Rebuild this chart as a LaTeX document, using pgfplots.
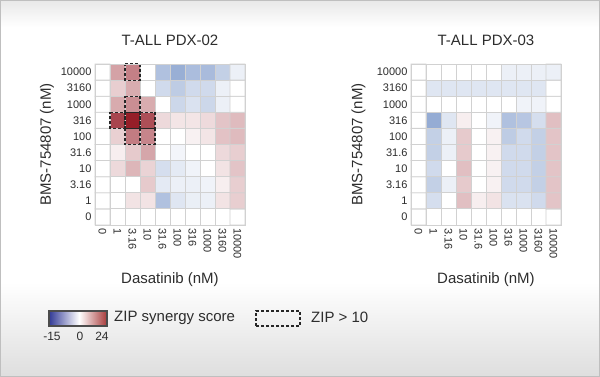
\documentclass[border=0pt]{standalone}
\usepackage{fontspec}
\setmainfont{Liberation Sans}
\usepackage{pgfplots}
\pgfplotsset{compat=1.18}
\definecolor{zl}{RGB}{50,58,150}
\definecolor{zr}{RGB}{168,58,58}
\definecolor{txt}{RGB}{45,45,45}
\pgfplotsset{colormap={zip}{rgb255(0cm)=(70,110,180) rgb255(15cm)=(255,255,255) rgb255(39cm)=(150,30,40)}}
\pgfdeclarehorizontalshading{zipbar}{100bp}{color(0bp)=(zl); color(25bp)=(zl); color(51bp)=(white); color(75bp)=(zr); color(100bp)=(zr)}
\pgfplotsset{hm/.style={
  scale only axis, width=150pt, height=161pt,
  xmin=-0.5, xmax=9.5, ymin=-0.5, ymax=9.5,
  xtick={0,...,9}, ytick={0,...,9},
  xticklabels={0,1,3.16,10,31.6,100,316,1000,3160,10000},
  yticklabels={10000,3160,1000,316,100,31.6,10,3.16,1,0},
  major tick length=0pt,
  axis line style={draw=black!18, line width=0.8pt},
  tick label style={font=\fontsize{11}{12}\selectfont, text=txt},
  xticklabel style={rotate=-90, anchor=west},
  colormap name=zip, point meta min=-15, point meta max=24,
  clip=false,
  label style={font=\fontsize{15}{18}\selectfont, text=txt},
  xlabel={Dasatinib (nM)}, ylabel={BMS-754807 (nM)},
  xlabel style={at={(axis description cs:0.5,-0.34)}, anchor=center},
  title style={at={(axis description cs:0.5,1.11)}, anchor=center, font=\fontsize{15}{18}\selectfont, text=txt},
  zipbox/.style={black!85, line width=1.1pt, dash pattern=on 3pt off 2pt},
}}
\begin{document}
\begin{tikzpicture}[x=1pt, y=1pt]
\useasboundingbox (0,0) rectangle (600,377);
\fill[white] (0,0) rectangle (600,377);
\shade[top color=black!9, bottom color=white] (0,350) rectangle (600,377);
\shade[top color=white, bottom color=black!13] (0,0) rectangle (600,95);
\draw[black!25, line width=1pt] (0.5,0.5) rectangle (599.5,376.5);

% y in the tables: 0 = BMS 0 nM ... 9 = BMS 10000 nM; plotted at 9-y (matrix plot reverses y)
\begin{axis}[hm, at={(95pt,152pt)}, anchor=south west, title={T-ALL PDX-02},
  ylabel style={at={(axis description cs:-0.32,0.5)}, anchor=center}]
\addplot[matrix plot, point meta=explicit, mesh/cols=10, faceted color=black!18, draw=black!18, line width=0.8pt]
table[row sep=\\, meta=z, y expr=9-\thisrow{y}]{
x y z\\
0 0 0\\ 1 0 0\\ 2 0 0\\ 3 0 0\\ 4 0 0\\ 5 0 0\\ 6 0 0\\ 7 0 0\\ 8 0 0\\ 9 0 0\\
0 1 0\\ 1 1 0\\ 2 1 3\\ 3 1 3\\ 4 1 -6.4\\ 5 1 -2.6\\ 6 1 -1.7\\ 7 1 -1.5\\ 8 1 3\\ 9 1 5.2\\
0 2 0\\ 1 2 0\\ 2 2 0\\ 3 2 5.7\\ 4 2 -2.2\\ 5 2 -1.5\\ 6 2 -1.5\\ 7 2 -1.2\\ 8 2 1.8\\ 9 2 5.2\\
0 3 0\\ 1 3 4\\ 2 3 7.8\\ 3 3 4.7\\ 4 3 -3.4\\ 5 3 -2.2\\ 6 3 -1.2\\ 7 3 0\\ 8 3 3\\ 9 3 6.3\\
0 4 0\\ 1 4 1.8\\ 2 4 5.7\\ 3 4 9.5\\ 4 4 0\\ 5 4 -1\\ 6 4 0\\ 7 4 0\\ 8 4 4\\ 9 4 5.2\\
0 5 0\\ 1 5 5\\ 2 5 14\\ 3 5 13\\ 4 5 0\\ 5 5 0\\ 6 5 1.5\\ 7 5 2.8\\ 8 5 6.5\\ 9 5 7.3\\
0 6 0\\ 1 6 19.8\\ 2 6 24\\ 3 6 18.8\\ 4 6 4\\ 5 6 2.8\\ 6 6 2.8\\ 7 6 3.9\\ 8 6 6.3\\ 9 6 7.3\\
0 7 0\\ 1 7 9\\ 2 7 12\\ 3 7 8.9\\ 4 7 0\\ 5 7 -4.1\\ 6 7 -3\\ 7 7 -4.1\\ 8 7 -1.5\\ 9 7 0\\
0 8 0\\ 1 8 5.2\\ 2 8 8.9\\ 3 8 0\\ 4 8 -3.8\\ 5 8 -5.3\\ 6 8 -3.8\\ 7 8 -3.8\\ 8 8 -1.5\\ 9 8 0\\
0 9 0\\ 1 9 9.9\\ 2 9 13.5\\ 3 9 0\\ 4 9 -6.4\\ 5 9 -8.3\\ 6 9 -6.8\\ 7 9 -7\\ 8 9 -4.9\\ 9 9 -1.5\\
};
% ZIP > 10 cells (plotted rows: 0 = 10000 nM, 2 = 1000, 3 = 316, 4 = 100)
\addplot[zipbox] coordinates {(1.5,-0.5) (2.5,-0.5) (2.5,0.5) (1.5,0.5) (1.5,-0.5)};
\addplot[zipbox] coordinates {(1.5,1.5) (2.5,1.5) (2.5,2.5) (1.5,2.5) (1.5,1.5)};
\addplot[zipbox] coordinates {(0.5,2.5) (1.5,2.5) (1.5,3.5) (0.5,3.5) (0.5,2.5)};
\addplot[zipbox] coordinates {(1.5,2.5) (2.5,2.5) (2.5,3.5) (1.5,3.5) (1.5,2.5)};
\addplot[zipbox] coordinates {(2.5,2.5) (3.5,2.5) (3.5,3.5) (2.5,3.5) (2.5,2.5)};
\addplot[zipbox] coordinates {(1.5,3.5) (2.5,3.5) (2.5,4.5) (1.5,4.5) (1.5,3.5)};
\addplot[zipbox] coordinates {(2.5,3.5) (3.5,3.5) (3.5,4.5) (2.5,4.5) (2.5,3.5)};
\end{axis}

\begin{axis}[hm, at={(411pt,152pt)}, anchor=south west, title={T-ALL PDX-03},
  ylabel style={at={(axis description cs:-0.35,0.5)}, anchor=center}]
\addplot[matrix plot, point meta=explicit, mesh/cols=10, faceted color=black!18, draw=black!18, line width=0.8pt]
table[row sep=\\, meta=z, y expr=9-\thisrow{y}]{
x y z\\
0 0 0\\ 1 0 0\\ 2 0 0\\ 3 0 0\\ 4 0 0\\ 5 0 0\\ 6 0 0\\ 7 0 0\\ 8 0 0\\ 9 0 0\\
0 1 0\\ 1 1 -3.4\\ 2 1 0\\ 3 1 6.8\\ 4 1 1.8\\ 5 1 3\\ 6 1 -3\\ 7 1 -3\\ 8 1 -3.8\\ 9 1 6.3\\
0 2 0\\ 1 2 -4.9\\ 2 2 -1.5\\ 3 2 5.7\\ 4 2 0\\ 5 2 1.5\\ 6 2 -3.8\\ 7 2 -3.8\\ 8 2 -4.9\\ 9 2 6.3\\
0 3 0\\ 1 3 -3.8\\ 2 3 0\\ 3 3 6.8\\ 4 3 0\\ 5 3 1.5\\ 6 3 -3.8\\ 7 3 -3.8\\ 8 3 -4.9\\ 9 3 6.3\\
0 4 0\\ 1 4 -4.9\\ 2 4 -1.5\\ 3 4 5.7\\ 4 4 0\\ 5 4 1.5\\ 6 4 -3.8\\ 7 4 -3.8\\ 8 4 -4.9\\ 9 4 6.3\\
0 5 0\\ 1 5 -4.9\\ 2 5 -1.5\\ 3 5 5.7\\ 4 5 0\\ 5 5 1.5\\ 6 5 -5.3\\ 7 5 -3.8\\ 8 5 -4.9\\ 9 5 6.3\\
0 6 0\\ 1 6 -8.6\\ 2 6 -2.6\\ 3 6 1.8\\ 4 6 0\\ 5 6 -1.2\\ 6 6 -6.4\\ 7 6 -6\\ 8 6 -3.4\\ 9 6 6.8\\
0 7 0\\ 1 7 0\\ 2 7 0\\ 3 7 0\\ 4 7 0\\ 5 7 0\\ 6 7 0\\ 7 7 -1.2\\ 8 7 -1.2\\ 9 7 0\\
0 8 0\\ 1 8 -2.6\\ 2 8 -2.6\\ 3 8 -2.6\\ 4 8 -2.6\\ 5 8 -2.6\\ 6 8 -2.6\\ 7 8 -2.6\\ 8 8 -2.6\\ 9 8 0\\
0 9 0\\ 1 9 0\\ 2 9 0\\ 3 9 0\\ 4 9 0\\ 5 9 0\\ 6 9 -1.5\\ 7 9 -1.5\\ 8 9 -1.5\\ 9 9 -1.5\\
};
\end{axis}

% legend
\shade[shading=zipbar] (49,51) rectangle (107,66);
\draw[black!70, line width=1.5pt] (49,51) rectangle (107,66);
\begin{scope}[font=\fontsize{12}{14}\selectfont, text=txt]
\node at (52,41) {-15};
\node at (80,41) {0};
\node at (102,41) {24};
\end{scope}
\node[anchor=west, font=\fontsize{15}{18}\selectfont, text=txt, inner sep=0pt] at (114,59.5) {ZIP synergy score};
\draw[black!85, line width=1.1pt, dash pattern=on 3pt off 2pt] (256,51) rectangle (300,66);
\node[anchor=west, font=\fontsize{15}{18}\selectfont, text=txt, inner sep=0pt] at (311,59.5) {ZIP > 10};
\end{tikzpicture}
\end{document}
